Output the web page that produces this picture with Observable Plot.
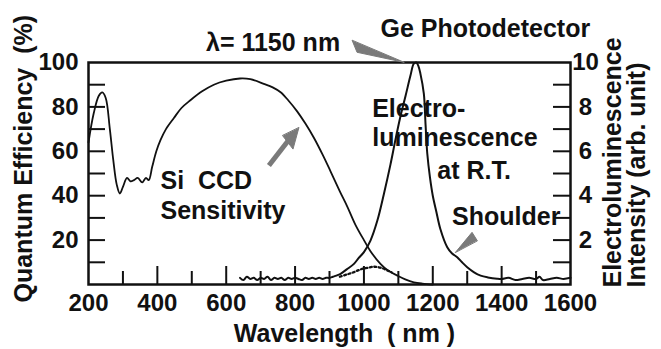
<!DOCTYPE html>
<html>
<head>
<meta charset="utf-8">
<script src="https://cdn.jsdelivr.net/npm/d3@7"></script>
<script src="https://cdn.jsdelivr.net/npm/@observablehq/plot@0.6"></script>
<style>
  html, body { margin: 0; padding: 0; background: white; }
  svg text { white-space: pre; }
</style>
</head>
<body>
<div id="chart"></div>
<script>
// ---- Data ----
// Si CCD quantum efficiency (%), left axis
const siNm = [200, 215, 230, 240, 250, 262, 272, 282, 291, 300, 312, 322, 332, 343, 356, 367, 375, 385, 397, 409, 425, 448, 470, 496, 530, 564, 600, 640, 670, 709, 735, 758, 780, 806, 830, 855, 880, 903, 930, 952, 975, 1000, 1019, 1048, 1070, 1097, 1120, 1145, 1170, 1200];
const siQE = [64, 77, 85, 86.5, 84, 70, 56, 45, 41, 44, 48, 46.5, 47, 48, 46, 48, 47, 53, 60, 65, 70, 75, 79.5, 83, 87, 90, 91.8, 92.8, 92.5, 90.4, 88.8, 86.6, 83, 78, 72.5, 66, 58.5, 51, 42, 35, 27, 20, 15, 9.3, 6.3, 4, 2.3, 1, 0.4, 0];

// Electroluminescence intensity (arb. unit), right axis
const elNm = [640, 650, 660, 670, 680, 690, 700, 710, 720, 730, 740, 750, 760, 770, 780, 790, 800, 810, 820, 830, 840, 850, 860, 870, 880, 890, 900, 910, 920, 932, 950, 971, 985, 1000, 1019, 1039, 1058, 1077, 1090, 1105, 1121, 1135, 1145, 1152, 1158, 1164, 1174, 1179, 1184, 1192, 1200, 1210, 1222, 1242, 1256, 1271, 1285, 1300, 1320, 1339, 1360, 1387, 1400, 1420, 1440, 1460, 1480, 1500, 1510, 1520, 1540, 1560, 1580, 1600];
const elInt = [0.3, 0.2, 0.35, 0.25, 0.3, 0.2, 0.3, 0.25, 0.35, 0.2, 0.3, 0.25, 0.3, 0.2, 0.3, 0.25, 0.3, 0.25, 0.2, 0.3, 0.25, 0.3, 0.25, 0.3, 0.25, 0.3, 0.3, 0.35, 0.4, 0.48, 0.68, 0.93, 1.2, 1.46, 1.98, 2.88, 4.08, 5.4, 6.4, 7.5, 8.5, 9.4, 9.95, 10, 9.85, 9.5, 8.6, 7.2, 5.9, 4.8, 4.0, 3.3, 2.5, 1.68, 1.4, 1.23, 1.0, 0.78, 0.55, 0.4, 0.32, 0.26, 0.25, 0.3, 0.2, 0.25, 0.3, 0.25, 0.35, 0.2, 0.25, 0.3, 0.25, 0.3];

// Dotted curve (right axis units)
const dotNm = [930, 950, 970, 990, 1010, 1030, 1050, 1070, 1080];
const dotInt = [0.35, 0.45, 0.55, 0.68, 0.75, 0.8, 0.75, 0.62, 0.55];

// Tick labels
const xTickLabels = [200, 400, 600, 800, 1000, 1200, 1400, 1600];
const xMajorTicks = [400, 600, 800, 1000, 1200, 1400];
const xMinorTicks = [300, 500, 700, 900, 1100, 1300, 1500];
const qeTickLabels = [20, 40, 60, 80, 100];
const qeTicks = [10, 20, 30, 40, 50, 60, 70, 80, 90];
const elTickLabels = [2, 4, 6, 8, 10];
const elTicks = [1, 2, 3, 4, 5, 6, 7, 8, 9];

// ---- Build tables ----
const EL_TO_QE = 100 / 10; // right axis 0–10 maps onto left axis 0–100
const si = siNm.map((x, i) => ({x, y: siQE[i]}));
const el = elNm.map((x, i) => ({x, y: elInt[i]}));
const dot = dotNm.map((x, i) => ({x, y: dotInt[i]}));

// Annotations (data coordinates)
const notesMiddle = [
  {x: 736, y: 105.4, t: "λ= 1150 nm"}
];
const notesStart = [
  {x: 1048, y: 111.4, t: "Ge Photodetector"},
  {x: 409, y: 43.2, t: "Si  CCD"},
  {x: 409, y: 29.3, t: "Sensitivity"},
  {x: 1024, y: 75.4, t: "Electro-"},
  {x: 1024, y: 62.6, t: "luminescence"},
  {x: 1213, y: 47.7, t: "at R.T."},
  {x: 1256, y: 26.6, t: "Shoulder"}
];
const peakPointer = [{x: 966, y: 109.9}, {x: 980, y: 104.6}, {x: 1116, y: 100.1}];
const shoulderPointer = [{x: 1266, y: 14.5}, {x: 1314, y: 23.5}, {x: 1329, y: 19.8}];
const ccdArrowShaft = [{x1: 724, y1: 53.6, x2: 781, y2: 65}];
const ccdArrowHead = [{x: 764, y: 67}, {x: 794, y: 61}, {x: 811, y: 70.6}];

const GRAY = "#7a7a7a";
const INK = "#111";

const chart = Plot.plot({
  width: 661,
  height: 349,
  marginLeft: 88,
  marginRight: 91,
  marginTop: 62,
  marginBottom: 65,
  x: {domain: [200, 1600]},
  y: {domain: [0, 100]},
  style: {
    fontFamily: "'Liberation Sans', Arial, Helvetica, sans-serif",
    fontSize: "24px",
    fontWeight: "bold",
    background: "white",
    color: INK
  },
  marks: [
    // axes: ticks pointing inward
    Plot.axisX(xMajorTicks, {anchor: "bottom", tickSize: -18, strokeWidth: 2, tickFormat: () => "", label: null}),
    Plot.axisX(xMinorTicks, {anchor: "bottom", tickSize: -13, strokeWidth: 2, tickFormat: () => "", label: null}),
    Plot.axisX(xTickLabels, {anchor: "bottom", tickSize: 0, tickPadding: 9, fontSize: 24, tickFormat: d => String(d), label: null}),
    Plot.axisY(qeTicks, {anchor: "left", tickSize: -17, strokeWidth: 2, tickFormat: () => "", label: null}),
    Plot.axisY(qeTickLabels, {anchor: "left", tickSize: 0, tickPadding: 10, fontSize: 24, tickFormat: d => String(d), label: null}),
    Plot.axisY(elTicks.map(v => v * EL_TO_QE), {anchor: "right", tickSize: -18, strokeWidth: 2, tickFormat: () => "", label: null}),
    Plot.axisY(elTickLabels.map(v => v * EL_TO_QE), {anchor: "right", tickSize: 0, tickPadding: 15, textAnchor: "middle", fontSize: 24, tickFormat: d => String(d / EL_TO_QE), label: null}),
    Plot.frame({stroke: INK, strokeWidth: 2.5}),

    // curves
    Plot.line(si, {x: "x", y: "y", stroke: INK, strokeWidth: 1.8, curve: "catmull-rom"}),
    Plot.line(el, {x: "x", y: d => d.y * EL_TO_QE, stroke: INK, strokeWidth: 2, curve: "catmull-rom"}),
    Plot.line(dot, {x: "x", y: d => d.y * EL_TO_QE, stroke: INK, strokeWidth: 2.3, strokeDasharray: "2,2.5", curve: "catmull-rom"}),

    // pointers
    Plot.line(peakPointer, {x: "x", y: "y", fill: GRAY, stroke: GRAY, strokeWidth: 1, curve: "linear-closed"}),
    Plot.line(shoulderPointer, {x: "x", y: "y", fill: GRAY, stroke: GRAY, strokeWidth: 1, curve: "linear-closed"}),
    Plot.link(ccdArrowShaft, {x1: "x1", y1: "y1", x2: "x2", y2: "y2", stroke: GRAY, strokeWidth: 5}),
    Plot.line(ccdArrowHead, {x: "x", y: "y", fill: GRAY, stroke: GRAY, strokeWidth: 1, curve: "linear-closed"}),

    // annotations
    Plot.text(notesMiddle, {x: "x", y: "y", text: "t", textAnchor: "middle", lineAnchor: "bottom", fontSize: 25, fill: INK}),
    Plot.text(notesStart, {x: "x", y: "y", text: "t", textAnchor: "start", lineAnchor: "bottom", fontSize: 25, fill: INK}),

    // axis titles
    Plot.text(["Wavelength  ( nm )"], {frameAnchor: "bottom", dx: 15, dy: 57, lineAnchor: "bottom", fontSize: 25, fill: INK}),
    Plot.text(["Quantum Efficiency  (%)"], {frameAnchor: "bottom-left", rotate: -90, textAnchor: "start", lineAnchor: "bottom", dx: -57, dy: 18, fontSize: 25, fill: INK}),
    Plot.text(["Electroluminescence"], {frameAnchor: "bottom-right", rotate: -90, textAnchor: "start", lineAnchor: "bottom", dx: 50, dy: 3, fontSize: 25, fill: INK}),
    Plot.text(["Intensity (arb. unit)"], {frameAnchor: "bottom-right", rotate: -90, textAnchor: "start", lineAnchor: "bottom", dx: 74, dy: 3, fontSize: 25, fill: INK})
  ]
});
document.getElementById("chart").appendChild(chart);
</script>
</body>
</html>
